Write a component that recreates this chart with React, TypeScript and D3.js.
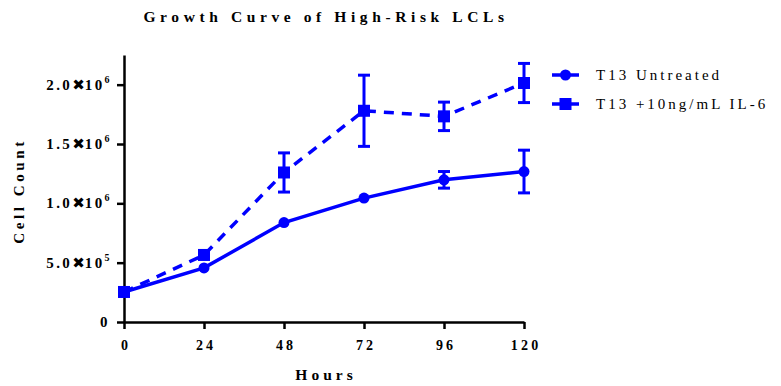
import * as d3 from "d3"
import { useRef, useEffect } from "react"

const hours = [0, 24, 48, 72, 96, 120]
const untreated = [253000, 456000, 838000, 1044000, 1198000, 1268000]
const untreatedErr = [0, 0, 0, 0, 70000, 180000]
const il6 = [253000, 565000, 1260000, 1780000, 1733000, 2014000]
const il6Err = [0, 0, 165000, 300000, 120000, 165000]
const yTicks = [0, 500000, 1000000, 1500000, 2000000]
const yTickLabels = [
  { base: "0", exp: "" },
  { base: "5.0", exp: "5" },
  { base: "1.0", exp: "6" },
  { base: "1.5", exp: "6" },
  { base: "2.0", exp: "6" },
]
const seriesNames = ["T13 Untreated", "T13 +10ng/mL IL-6"]

const App = () => {
  const svgRef = useRef(null)
  const width = 781
  const height = 386
  const left = 124
  const right = 524
  const top = 55
  const bottom = 322
  const blue = "#0000ff"
  const font = "'Liberation Serif', 'Times New Roman', serif"

  useEffect(() => {
    const svg = d3.select(svgRef.current)
    svg.selectAll("*").remove()

    const x = d3.scaleLinear().domain([0, 120]).range([left, right])
    const y = d3.scaleLinear().domain([0, 2250000]).range([bottom, top])

    // title
    svg
      .append("text")
      .attr("x", 326)
      .attr("y", 22)
      .attr("text-anchor", "middle")
      .attr("font-family", font)
      .attr("font-weight", "bold")
      .attr("font-size", "15.5px")
      .attr("letter-spacing", "4.6px")
      .text("Growth Curve of High-Risk LCLs")

    // x axis
    const xAxis = svg
      .append("g")
      .attr("transform", `translate(0, ${bottom})`)
      .call(d3.axisBottom(x).tickValues(hours).tickSize(7).tickSizeOuter(0).tickPadding(11))
    xAxis.select(".domain").attr("stroke-width", 2.5)
    xAxis.selectAll(".tick line").attr("stroke-width", 2.5)
    xAxis
      .selectAll(".tick text")
      .attr("font-family", font)
      .attr("font-weight", "bold")
      .attr("font-size", "14px")
      .attr("letter-spacing", "3.2px")
      .attr("dx", "1.6px")
      .attr("fill", "#000")

    // y axis
    const yAxis = svg
      .append("g")
      .attr("transform", `translate(${left}, 0)`)
      .call(d3.axisLeft(y).tickValues(yTicks).tickSize(7).tickSizeOuter(0).tickFormat(() => ""))
    yAxis.select(".domain").attr("stroke-width", 2.5)
    yAxis.selectAll(".tick line").attr("stroke-width", 2.5)

    yTicks.forEach((v, i) => {
      const lab = yTickLabels[i]
      const t = svg
        .append("text")
        .attr("x", lab.exp ? 112 : 110)
        .attr("y", y(v) + 5)
        .attr("text-anchor", "end")
        .attr("font-family", font)
        .attr("font-weight", "bold")
        .attr("font-size", "15px")
        .attr("letter-spacing", "2.4px")
      if (lab.exp) {
        t.append("tspan").text(lab.base)
        t.append("tspan").attr("font-family", "'DejaVu Sans', sans-serif").attr("font-size", "15px").attr("letter-spacing", "0px").text("\u2716")
        t.append("tspan").text("10")
        t.append("tspan").attr("dy", -7).attr("font-size", "10px").text(lab.exp)
      } else {
        t.text(lab.base)
      }
    })

    // axis titles
    svg
      .append("text")
      .attr("x", 326)
      .attr("y", 380)
      .attr("text-anchor", "middle")
      .attr("font-family", font)
      .attr("font-weight", "bold")
      .attr("font-size", "15.5px")
      .attr("letter-spacing", "4px")
      .text("Hours")

    svg
      .append("text")
      .attr("transform", `translate(24, 191) rotate(-90)`)
      .attr("text-anchor", "middle")
      .attr("font-family", font)
      .attr("font-weight", "bold")
      .attr("font-size", "15px")
      .attr("letter-spacing", "3.6px")
      .text("Cell Count")

    const line = d3
      .line<number>()
      .x((d, i) => x(hours[i]))
      .y((d) => y(d))

    const series = [
      { values: il6, err: il6Err, dash: "10,8", marker: "square" },
      { values: untreated, err: untreatedErr, dash: null, marker: "circle" },
    ]

    series.forEach((s) => {
      svg
        .append("path")
        .datum(s.values)
        .attr("d", line)
        .attr("fill", "none")
        .attr("stroke", blue)
        .attr("stroke-width", 3.5)
        .attr("stroke-dasharray", s.dash)

      // error bars
      const eb = svg.append("g")
      s.values.forEach((v, i) => {
        if (!s.err[i]) return
        const cx = x(hours[i])
        const y1 = y(v + s.err[i])
        const y2 = y(v - s.err[i])
        eb.append("line").attr("x1", cx).attr("x2", cx).attr("y1", y1).attr("y2", y2).attr("stroke", blue).attr("stroke-width", 3)
        eb.append("line").attr("x1", cx - 6).attr("x2", cx + 6).attr("y1", y1).attr("y2", y1).attr("stroke", blue).attr("stroke-width", 3)
        eb.append("line").attr("x1", cx - 6).attr("x2", cx + 6).attr("y1", y2).attr("y2", y2).attr("stroke", blue).attr("stroke-width", 3)
      })

      // markers
      if (s.marker === "circle") {
        svg
          .append("g")
          .selectAll("circle")
          .data(s.values)
          .join("circle")
          .attr("cx", (d, i) => x(hours[i]))
          .attr("cy", (d) => y(d))
          .attr("r", 5.5)
          .attr("fill", blue)
      } else {
        svg
          .append("g")
          .selectAll("rect")
          .data(s.values)
          .join("rect")
          .attr("x", (d, i) => x(hours[i]) - 6)
          .attr("y", (d) => y(d) - 6)
          .attr("width", 12)
          .attr("height", 12)
          .attr("fill", blue)
      }
    })

    // legend
    const legend = svg.append("g")
    seriesNames.forEach((name, i) => {
      const ly = 75 + i * 29
      legend.append("line").attr("x1", 552).attr("x2", 579).attr("y1", ly).attr("y2", ly).attr("stroke", blue).attr("stroke-width", 3.5)
      if (i === 0) {
        legend.append("circle").attr("cx", 565.5).attr("cy", ly).attr("r", 5.5).attr("fill", blue)
      } else {
        legend.append("rect").attr("x", 559.5).attr("y", ly - 6).attr("width", 12).attr("height", 12).attr("fill", blue)
      }
      legend
        .append("text")
        .attr("x", 596)
        .attr("y", ly + 5)
        .attr("font-family", font)
        .attr("font-size", "15px")
        .attr("letter-spacing", "3px")
        .text(name)
    })
  }, [])

  return <svg ref={svgRef} width={width} height={height} style={{ position: "absolute", left: 0, top: 0 }} />
}

export default App
